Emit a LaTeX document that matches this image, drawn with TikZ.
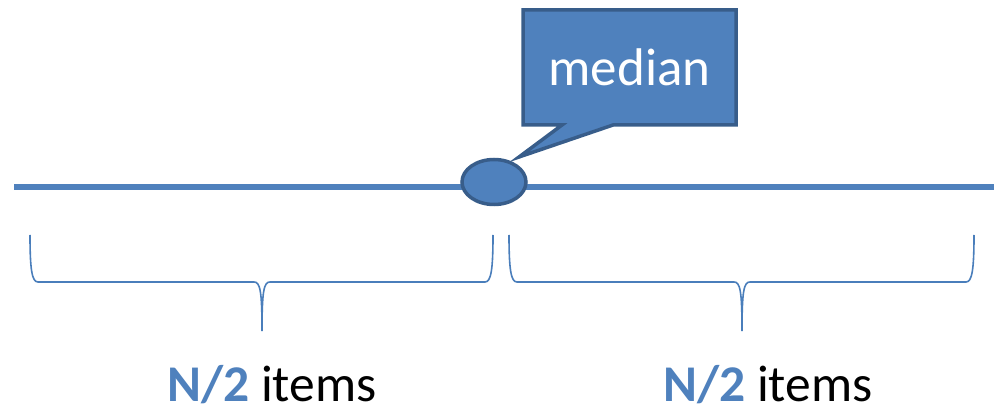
\documentclass[tikz,border=0pt]{standalone}
\usepackage{fontspec}
\setmainfont{Carlito}
\usetikzlibrary{shapes.geometric}
\definecolor{obl}{HTML}{4F81BD}
\definecolor{odk}{HTML}{385D8A}
\definecolor{obr}{HTML}{4A7EBB}
\tikzset{
  axis/.style={draw=obl, line width=6.5pt},
  dot/.style={ellipse, draw=odk, fill=obl, line width=3.5pt, minimum width=64pt, minimum height=45pt, inner sep=0pt},
  callbox/.style={draw=odk, fill=obl, line width=3.5pt, line join=miter},
  calltext/.style={text=white, font=\fontsize{53}{58}\selectfont, inner sep=0pt},
  bracepath/.style={draw=obr, line width=1.6pt},
  lbl/.style={font=\fontsize{51.5}{56}\selectfont, inner sep=0pt, anchor=base},
}
\newcommand{\mybrace}[3]{% left x, right x, tip x
  \draw[bracepath] (#1,235) .. controls (#1,270) and (#1+2,282) .. (#1+8,282)
    -- (#3-8,282) .. controls (#3-2,282) and (#3,290) .. (#3,331);
  \draw[bracepath] (#2,235) .. controls (#2,270) and (#2-2,282) .. (#2-8,282)
    -- (#3+8,282) .. controls (#3+2,282) and (#3,290) .. (#3,331);
}
\begin{document}
\begin{tikzpicture}[x=1pt,y=-1pt]
\useasboundingbox (0,0) rectangle (994,414);
\coordinate (lineL) at (14,187);
\coordinate (lineR) at (994,187);
\draw[axis] (lineL) -- (lineR);
\node[dot] (med) at (494,182) {};
\draw[callbox] (523,10) -- (736,10) -- (736,125) -- (613,125) -- (519,157) -- (562,125) -- (523,125) -- cycle;
\node[calltext] (lab) at (629.5,67) {median};
\mybrace{30}{493}{262}
\mybrace{509}{974}{742}
\node[lbl] (left) at (272,401) {\textcolor{obl}{\textbf{N/2}} items};
\node[lbl] (right) at (768,401) {\textcolor{obl}{\textbf{N/2}} items};
\end{tikzpicture}
\end{document}
